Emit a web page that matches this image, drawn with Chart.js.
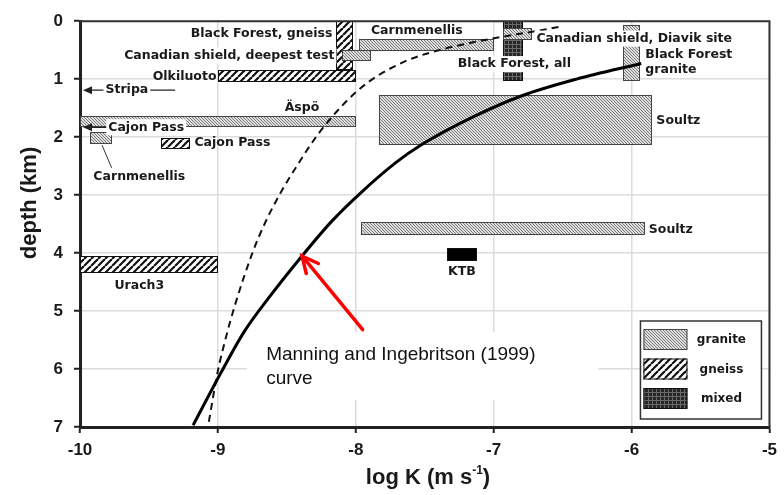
<!DOCTYPE html>
<html>
<head>
<meta charset="utf-8">
<script src="https://cdn.jsdelivr.net/npm/chart.js@4.4.0/dist/chart.umd.min.js"></script>
<style>
  html, body { margin: 0; padding: 0; background: #fff; }
</style>
</head>
<body>
<canvas id="chart" width="784" height="495"></canvas>
<script>
// axis ticks
const xTicks = [-10, -9, -8, -7, -6, -5];
const yTicks = [0, 1, 2, 3, 4, 5, 6, 7];

// Manning and Ingebritsen (1999) curve (solid)
const solidDepth = [0.73, 1.0, 1.29, 1.63, 2.14, 2.44, 2.93, 3.44, 4.05, 4.8, 5.36, 6.03, 6.97];
const solidLogK  = [-5.93, -6.4, -6.8, -7.13, -7.53, -7.71, -7.95, -8.17, -8.39, -8.64, -8.81, -8.97, -9.18];

// second curve (dashed)
const dashDepth = [0.1, 0.19, 0.27, 0.36, 0.49, 0.69, 1.07, 1.46, 1.97, 2.47, 2.98, 3.49, 4.0, 4.85, 5.53, 6.03, 6.97];
const dashLogK  = [-6.53, -6.74, -6.94, -7.14, -7.38, -7.64, -7.92, -8.1, -8.28, -8.42, -8.55, -8.66, -8.75, -8.87, -8.95, -9.0, -9.07];

// measured sites: log K range and depth range (km)
const siteNames = ['Black Forest, gneiss', 'Olkiluoto', 'Canadian shield, deepest test', 'Carnmenellis',
  'Black Forest, all', 'Canadian shield, Diavik site', 'Black Forest granite', 'Äspö', 'Carnmenellis',
  'Cajon Pass', 'Soultz', 'Soultz', 'KTB', 'Urach3'];
const siteRock = ['gneiss', 'gneiss', 'granite', 'granite', 'mixed', 'granite', 'granite', 'granite',
  'granite', 'gneiss', 'granite', 'granite', 'ktb', 'gneiss'];
const siteKmin = [-8.14, -9.0, -8.10, -7.98, -6.93, -6.93, -6.06, -10.0, -9.93, -9.41, -7.83, -7.96, -7.34, -10.0];
const siteKmax = [-8.02, -8.0, -7.89, -7.0, -6.79, -6.72, -5.94, -8.0, -9.77, -9.2, -5.85, -5.90, -7.12, -9.0];
const siteTop  = [0.0, 0.85, 0.49, 0.30, 0.0, 0.12, 0.07, 1.64, 1.91, 2.02, 1.27, 3.47, 3.92, 4.05];
const siteBot  = [0.85, 1.05, 0.69, 0.52, 1.03, 0.33, 1.03, 1.83, 2.12, 2.2, 2.14, 3.69, 4.14, 4.34];

// sites off the chart to the left (arrows)
const arrowNames = ['Stripa', 'Cajon Pass'];
const arrowDepth = [1.19, 1.83];

const legendRocks = ['granite', 'gneiss', 'mixed'];

// text labels, anchored in data units
const notes = [
  { text: 'Black Forest, gneiss', x: -8.17, y: 0.22, align: 'right' },
  { text: 'Canadian shield, deepest test', x: -8.155, y: 0.59, align: 'right', bg: true },
  { text: 'Olkiluoto', x: -9.01, y: 0.95, align: 'right' },
  { text: 'Carnmenellis', x: -7.89, y: 0.16, align: 'left' },
  { text: 'Canadian shield, Diavik site', x: -6.69, y: 0.3, align: 'left', bg: true },
  { text: 'Black Forest, all', x: -7.26, y: 0.74, align: 'left', bg: true },
  { text: 'Black Forest', x: -5.9, y: 0.58, align: 'left' },
  { text: 'granite', x: -5.9, y: 0.83, align: 'left' },
  { text: 'Äspö', x: -8.39, y: 1.49, align: 'center' },
  { text: 'Cajon Pass', x: -9.17, y: 2.1, align: 'left' },
  { text: 'Carnmenellis', x: -9.57, y: 2.68, align: 'center' },
  { text: 'Soultz', x: -5.82, y: 1.71, align: 'left' },
  { text: 'Soultz', x: -5.875, y: 3.59, align: 'left' },
  { text: 'KTB', x: -7.23, y: 4.32, align: 'center' },
  { text: 'Urach3', x: -9.57, y: 4.56, align: 'center' }
];
const arrowLabelX = [-9.66, -9.52];
const arrowStartX = [-9.31, -9.25];

function makePattern(kind) {
  const c = document.createElement('canvas');
  const g = c.getContext('2d');
  if (kind === 'granite') {
    const s = 3;
    c.width = s; c.height = s;
    g.fillStyle = '#dedede';
    g.fillRect(0, 0, s, s);
    g.strokeStyle = '#7c7c7c';
    g.lineWidth = 1;
    for (let k = -s; k <= s; k += s) {
      g.beginPath(); g.moveTo(k, 0); g.lineTo(k + s, s); g.stroke();
    }
  } else if (kind === 'gneiss') {
    const s = 7;
    c.width = s; c.height = s;
    g.fillStyle = '#fff';
    g.fillRect(0, 0, s, s);
    g.strokeStyle = '#111';
    g.lineWidth = 2.2;
    for (let k = -s; k <= s; k += s) {
      g.beginPath(); g.moveTo(k, s); g.lineTo(k + s, 0); g.stroke();
    }
  } else if (kind === 'mixed') {
    const s = 4;
    c.width = s; c.height = s;
    g.fillStyle = '#262626';
    g.fillRect(0, 0, s, s);
    g.fillStyle = '#6a6a6a';
    g.fillRect(0, 0, s, 1);
    g.fillRect(0, 0, 1, s);
  } else {
    c.width = 1; c.height = 1;
    g.fillStyle = '#000';
    g.fillRect(0, 0, 1, 1);
  }
  return g.createPattern(c, 'repeat');
}

const LABEL_FONT = 'bold 12.5px "DejaVu Sans", sans-serif';

function drawRock(ctx, kind, x0, y0, w, h) {
  ctx.save();
  ctx.fillStyle = makePattern(kind);
  ctx.fillRect(x0, y0, w, h);
  ctx.strokeStyle = kind === 'granite' ? '#444' : '#111';
  ctx.lineWidth = 1;
  ctx.strokeRect(x0 + 0.5, y0 + 0.5, w - 1, h - 1);
  ctx.restore();
}

function textWithBg(ctx, text, px, py, align, bg) {
  ctx.font = LABEL_FONT;
  ctx.textAlign = align;
  ctx.textBaseline = 'middle';
  if (bg) {
    const w = ctx.measureText(text).width;
    let left = px;
    if (align === 'right') left = px - w;
    if (align === 'center') left = px - w / 2;
    ctx.fillStyle = '#fff';
    ctx.fillRect(left - 2, py - 8, w + 4, 16);
  }
  ctx.fillStyle = '#1a1a1a';
  ctx.fillText(text, px, py);
}

function leftArrow(ctx, x1, x2, y) {
  ctx.strokeStyle = '#222';
  ctx.lineWidth = 1.2;
  ctx.beginPath(); ctx.moveTo(x1, y); ctx.lineTo(x2 + 6, y); ctx.stroke();
  ctx.fillStyle = '#222';
  ctx.beginPath();
  ctx.moveTo(x2, y); ctx.lineTo(x2 + 9, y - 4); ctx.lineTo(x2 + 9, y + 4);
  ctx.closePath(); ctx.fill();
}

const sitesPlugin = {
  id: 'sites',
  beforeDatasetsDraw(chart) {
    const { ctx, scales: { x, y } } = chart;
    ctx.save();
    // white box behind the annotation
    const bx0 = x.getPixelForValue(-8.79), bx1 = x.getPixelForValue(-6.24);
    const by0 = y.getPixelForValue(5.36), by1 = y.getPixelForValue(6.54);
    ctx.fillStyle = '#fff';
    ctx.fillRect(bx0, by0, bx1 - bx0, by1 - by0);

    siteNames.forEach((name, i) => {
      const x0 = Math.round(x.getPixelForValue(siteKmin[i]));
      const x1 = Math.round(x.getPixelForValue(siteKmax[i]));
      const y0 = Math.round(y.getPixelForValue(siteTop[i]));
      const y1 = Math.round(y.getPixelForValue(siteBot[i]));
      drawRock(ctx, siteRock[i], x0, y0, x1 - x0, y1 - y0);
    });

    // leader line for the small Carnmenellis box
    ctx.strokeStyle = '#333';
    ctx.lineWidth = 1;
    ctx.beginPath();
    ctx.moveTo(x.getPixelForValue(-9.84), y.getPixelForValue(2.14));
    ctx.lineTo(x.getPixelForValue(-9.77), y.getPixelForValue(2.53));
    ctx.stroke();

    arrowNames.forEach((name, i) => {
      const py = y.getPixelForValue(arrowDepth[i]);
      leftArrow(ctx, x.getPixelForValue(arrowStartX[i]), x.left + 3, py);
    });
    ctx.restore();
  },
  afterDatasetsDraw(chart) {
    const { ctx, scales: { x, y }, chartArea } = chart;
    ctx.save();
    notes.forEach(n => {
      textWithBg(ctx, n.text, x.getPixelForValue(n.x), y.getPixelForValue(n.y), n.align, n.bg);
    });
    arrowNames.forEach((name, i) => {
      textWithBg(ctx, name, x.getPixelForValue(arrowLabelX[i]), y.getPixelForValue(arrowDepth[i]), 'center', true);
    });

    // red arrow
    const tx = x.getPixelForValue(-8.39), ty = y.getPixelForValue(4.05);
    const sx = x.getPixelForValue(-7.95), sy = y.getPixelForValue(5.32);
    const ang = Math.atan2(ty - sy, tx - sx);
    ctx.strokeStyle = '#ff0000';
    ctx.lineWidth = 3.5;
    ctx.lineCap = 'round';
    ctx.beginPath(); ctx.moveTo(sx, sy); ctx.lineTo(tx, ty); ctx.stroke();
    ctx.beginPath();
    ctx.moveTo(tx - 18 * Math.cos(ang - 0.45), ty - 18 * Math.sin(ang - 0.45));
    ctx.lineTo(tx, ty);
    ctx.lineTo(tx - 18 * Math.cos(ang + 0.45), ty - 18 * Math.sin(ang + 0.45));
    ctx.stroke();

    // annotation text
    ctx.fillStyle = '#111';
    ctx.font = '19px "Liberation Sans", Arial, sans-serif';
    ctx.textAlign = 'left';
    ctx.textBaseline = 'middle';
    ctx.fillText('Manning and Ingebritson (1999)', x.getPixelForValue(-8.65), y.getPixelForValue(5.75));
    ctx.fillText('curve', x.getPixelForValue(-8.65), y.getPixelForValue(6.17));

    // legend
    const lr = chartArea.right - 8, lb = chartArea.bottom - 8;
    const lw = 121, lh = 98;
    ctx.fillStyle = '#fff';
    ctx.fillRect(lr - lw, lb - lh, lw, lh);
    ctx.strokeStyle = '#333';
    ctx.lineWidth = 1.5;
    ctx.strokeRect(lr - lw, lb - lh, lw, lh);
    legendRocks.forEach((r, i) => {
      const top = lb - lh + 8 + i * 29.5;
      drawRock(ctx, r, lr - lw + 3, top, 44, 21);
      ctx.font = 'bold 12px "DejaVu Sans", sans-serif';
      ctx.fillStyle = '#1a1a1a';
      ctx.textAlign = 'center';
      ctx.textBaseline = 'middle';
      ctx.fillText(r, lr - 40, top + 11);
    });
    ctx.restore();
  },
  afterDraw(chart) {
    const { ctx, chartArea: a } = chart;
    ctx.save();
    ctx.strokeStyle = '#333';
    ctx.lineWidth = 2;
    ctx.beginPath();
    ctx.moveTo(a.left, a.top); ctx.lineTo(a.right, a.top); ctx.lineTo(a.right, a.bottom);
    ctx.stroke();

    const titleFont = 'bold 22px "Liberation Sans", Arial, sans-serif';
    ctx.fillStyle = '#1a1a1a';
    ctx.font = titleFont;
    ctx.textAlign = 'center';
    ctx.textBaseline = 'middle';
    ctx.save();
    ctx.translate(30, 203);
    ctx.rotate(-Math.PI / 2);
    ctx.fillText('depth (km)', 0, 0);
    ctx.restore();

    // x title with superscript
    const main = 'log K (m s', sup = '-1', end = ')';
    ctx.font = titleFont;
    const w1 = ctx.measureText(main).width, w3 = ctx.measureText(end).width;
    ctx.font = 'bold 12px "Liberation Sans", Arial, sans-serif';
    const w2 = ctx.measureText(sup).width;
    const left = 428 - (w1 + w2 + w3) / 2;
    ctx.textAlign = 'left';
    ctx.font = titleFont;
    ctx.fillText(main, left, 478);
    ctx.font = 'bold 12px "Liberation Sans", Arial, sans-serif';
    ctx.fillText(sup, left + w1, 471);
    ctx.font = titleFont;
    ctx.fillText(end, left + w1 + w2, 478);
    ctx.restore();
  }
};

const tickFont = { family: '"Liberation Sans", Arial, sans-serif', size: 17, weight: 'bold' };

new Chart(document.getElementById('chart'), {
  type: 'scatter',
  data: {
    datasets: [
      {
        label: 'Manning and Ingebritsen (1999)',
        data: solidDepth.map((z, i) => ({ x: solidLogK[i], y: z })),
        showLine: true,
        borderColor: '#000',
        borderWidth: 3,
        pointRadius: 0,
        cubicInterpolationMode: 'monotone'
      },
      {
        label: 'dashed',
        data: dashDepth.map((z, i) => ({ x: dashLogK[i], y: z })),
        showLine: true,
        borderColor: '#111',
        borderWidth: 2,
        borderDash: [7, 5],
        pointRadius: 0,
        cubicInterpolationMode: 'monotone'
      }
    ]
  },
  options: {
    responsive: false,
    devicePixelRatio: 1,
    animation: false,
    layout: { padding: { left: 0, right: 13, top: 14, bottom: 0 } },
    plugins: { legend: { display: false }, tooltip: { enabled: false } },
    scales: {
      x: {
        type: 'linear',
        min: -10, max: -5,
        afterBuildTicks: s => { s.ticks = xTicks.map(v => ({ value: v })); },
        afterFit: s => { s.height = 68; },
        grid: { color: '#dcdcdc', lineWidth: 1.5, tickColor: '#222', tickLength: 6, tickWidth: 2 },
        border: { color: '#222', width: 3 },
        ticks: { color: '#1a1a1a', font: tickFont, padding: 7, callback: v => String(v) }
      },
      y: {
        type: 'linear',
        min: 0, max: 7,
        reverse: true,
        afterBuildTicks: s => { s.ticks = yTicks.map(v => ({ value: v })); },
        afterFit: s => { s.width = 80; },
        grid: { color: '#dcdcdc', lineWidth: 1.5, tickColor: '#222', tickLength: 6, tickWidth: 2 },
        border: { color: '#222', width: 3 },
        ticks: { color: '#1a1a1a', font: tickFont, padding: 11 }
      }
    }
  },
  plugins: [sitesPlugin]
});
</script>
</body>
</html>
